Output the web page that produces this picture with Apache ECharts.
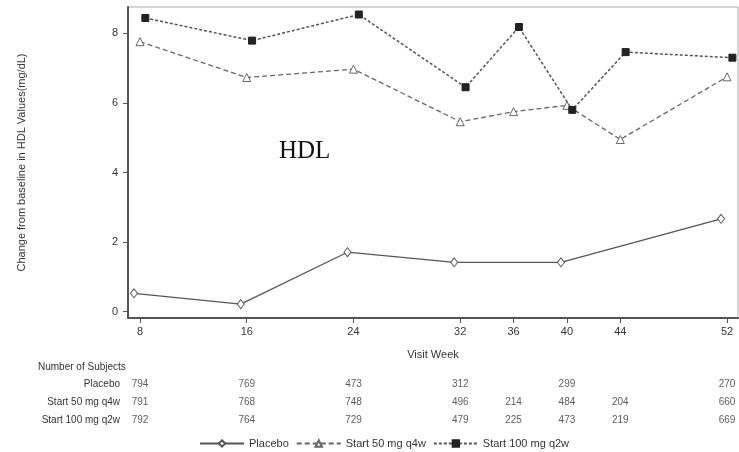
<!DOCTYPE html>
<html>
<head>
<meta charset="utf-8">
<script src="https://cdn.jsdelivr.net/npm/echarts@6/dist/echarts.min.js"></script>
<style>
  html, body { margin: 0; padding: 0; background: #fff; }
  #chart { width: 739px; height: 452px; }
</style>
</head>
<body>
<div id="chart"></div>
<script>
  // visit weeks shown on the x axis
  const weeks = [8, 16, 24, 32, 36, 40, 44, 52];
  const yTicks = [0, 2, 4, 6, 8];

  // mean change from baseline, mg/dL (null = not measured)
  const placebo = [0.53, 0.22, 1.71, 1.42, null, 1.42, null, 2.67];
  const q4w = [7.76, 6.73, 6.97, 5.46, 5.75, 5.93, 4.95, 6.75];
  const q2w = [8.44, 7.79, 8.54, 6.45, 8.18, 5.8, 7.46, 7.3];

  // number of subjects per visit
  const rowNames = ['Placebo', 'Start 50 mg q4w', 'Start 100 mg q2w'];
  const nPlacebo = [794, 769, 473, 312, null, 299, null, 270];
  const nQ4w = [791, 768, 748, 496, 214, 484, 204, 660];
  const nQ2w = [792, 764, 729, 479, 225, 473, 219, 669];

  const font = 'Liberation Sans, Arial, sans-serif';
  const xMin = 7.1, xMax = 52.82;

  // points are slightly dodged around the visit week
  function pts(vals, dodge) {
    let out = [];
    weeks.forEach((w, i) => {
      if (vals[i] != null) out.push([w + dodge, vals[i]]);
    });
    return out;
  }

  let tableData = [];
  [nPlacebo, nQ4w, nQ2w].forEach((row, r) => {
    weeks.forEach((w, i) => {
      if (row[i] != null) tableData.push([w, rowNames[r], row[i]]);
    });
  });

  const chart = echarts.init(document.getElementById('chart'));
  const option = {
    animation: false,
    textStyle: { fontFamily: font },
    title: [
      {
        text: 'HDL', left: 274, top: 134,
        textStyle: { fontFamily: 'Liberation Serif, Times New Roman, serif', fontSize: 25, fontWeight: 'normal', color: '#111' }
      },
      {
        text: 'Number of Subjects', left: 33, top: 357,
        textStyle: { fontSize: 10, fontWeight: 'normal', color: '#333' }
      }
    ],
    legend: {
      data: ['Placebo', 'Start 50 mg q4w', 'Start 100 mg q2w'],
      left: 194, top: 433,
      itemWidth: 44, itemHeight: 8, itemGap: 7,
      textStyle: { fontSize: 11, color: '#333' }
    },
    grid: [
      { left: 128, right: 1, top: 7, bottom: 134, show: true, borderColor: '#aaa', borderWidth: 1 },
      { left: 128, right: 1, top: 375, height: 54 }
    ],
    xAxis: [
      {
        type: 'value', gridIndex: 0, min: xMin, max: xMax,
        name: 'Visit Week', nameLocation: 'middle', nameGap: 31,
        nameTextStyle: { fontSize: 11, color: '#333' },
        axisLine: { onZero: false, lineStyle: { color: '#555', width: 2 } },
        axisTick: { customValues: weeks, length: 5, lineStyle: { color: '#555' } },
        axisLabel: { customValues: weeks, fontSize: 11, color: '#333', margin: 8 },
        splitLine: { show: false }
      },
      { type: 'value', gridIndex: 1, min: xMin, max: xMax, show: false }
    ],
    yAxis: [
      {
        type: 'value', gridIndex: 0, min: -0.18, max: 8.756,
        name: 'Change from baseline in HDL Values(mg/dL)', nameLocation: 'middle', nameGap: 101,
        nameTextStyle: { fontSize: 11, color: '#333' },
        axisLine: { show: true, onZero: false, lineStyle: { color: '#555', width: 2 } },
        axisTick: { show: true, customValues: yTicks, length: 5, lineStyle: { color: '#555' } },
        axisLabel: { customValues: yTicks, fontSize: 11, color: '#333', margin: 10 },
        splitLine: { show: false }
      },
      {
        type: 'category', gridIndex: 1, data: rowNames, inverse: true,
        axisLine: { show: false }, axisTick: { show: false },
        axisLabel: { fontSize: 10, color: '#333', margin: 8 }
      }
    ],
    series: [
      {
        name: 'Placebo', type: 'line', data: pts(placebo, -0.45),
        symbol: 'diamond', symbolSize: [7, 9],
        itemStyle: { color: '#fff', borderColor: '#555', borderWidth: 1 },
        lineStyle: { color: '#555', width: 1.3, type: 'solid' }
      },
      {
        name: 'Start 50 mg q4w', type: 'line', data: pts(q4w, 0),
        symbol: 'triangle', symbolSize: 8,
        itemStyle: { color: '#fff', borderColor: '#666', borderWidth: 1 },
        lineStyle: { color: '#666', width: 1.3, type: [5, 3] }
      },
      {
        name: 'Start 100 mg q2w', type: 'line', data: pts(q2w, 0.4),
        symbol: 'rect', symbolSize: 7,
        itemStyle: { color: '#222', borderColor: '#222', borderWidth: 1 },
        lineStyle: { color: '#555', width: 1.5, type: [3, 2] }
      },
      {
        name: 'subjects', type: 'scatter', xAxisIndex: 1, yAxisIndex: 1,
        data: tableData, symbolSize: 0, silent: true,
        label: {
          show: true, position: 'inside', fontSize: 10, color: '#333',
          formatter: (p) => p.value[2]
        }
      }
    ]
  };
  chart.setOption(option);
</script>
</body>
</html>
